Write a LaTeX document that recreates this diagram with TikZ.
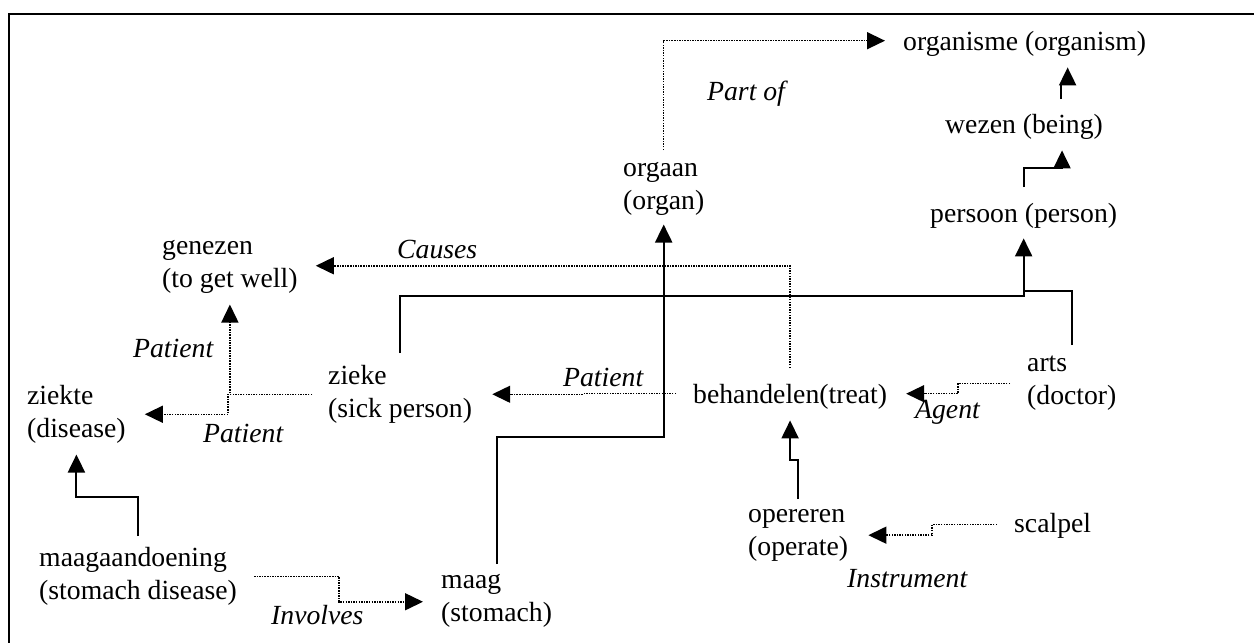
\documentclass[tikz,border=0pt]{standalone}
\usepackage{fontspec}
\setmainfont{Liberation Serif}
\usetikzlibrary{arrows.meta}

\begin{document}
\begin{tikzpicture}[x=1pt, y=-1pt, >={Triangle[length=18pt,width=17pt]},
  concept/.style={anchor=north west, inner sep=0pt, align=left,
    font=\fontsize{27.7}{33}\selectfont,
    execute at begin node=\strut, execute at end node=\strut},
  rel/.style={concept, font=\fontsize{27.7}{33}\selectfont\itshape},
  isa/.style={->, line width=2pt},
  role/.style={->, line width=1.5pt, dash pattern=on 1.5pt off 1.1pt}]
  \useasboundingbox (0,0) rectangle (1254,643);
  \draw[line width=2.5pt] (9,643) -- (9,14) -- (1254,14);

  % concepts
  \node[concept] (organisme) at (903,27) {organisme (organism)};
  \node[concept] (wezen) at (945,110) {wezen (being)};
  \node[concept] (persoon) at (930,199) {persoon (person)};
  \node[concept] (orgaan) at (623,162) {orgaan\\(organ)};
  \node[concept] (genezen) at (162,240) {genezen\\(to get well)};
  \node[concept] (ziekte) at (27,385) {ziekte\\(disease)};
  \node[concept] (zieke) at (328,365) {zieke\\(sick person)};
  \node[concept] (behandelen) at (693,380) {behandelen(treat)};
  \node[concept] (arts) at (1027,356) {arts\\(doctor)};
  \node[concept] (opereren) at (748,509) {opereren\\(operate)};
  \node[concept] (scalpel) at (1014,509) {scalpel};
  \node[concept] (maagaand) at (39,547) {maagaandoening\\(stomach disease)};
  \node[concept] (maag) at (441,574) {maag\\(stomach)};

  % relation labels
  \node[rel] (partof) at (707,77) {Part of};
  \node[rel] (causes) at (397,235) {Causes};
  \node[rel] (patienta) at (133,334) {Patient};
  \node[rel] (patientb) at (203,419) {Patient};
  \node[rel] (patientc) at (563,363) {Patient};
  \node[rel] (agent) at (915,395) {Agent};
  \node[rel] (instrument) at (847,564) {Instrument};
  \node[rel] (involves) at (271,601) {Involves};

  % is-a links
  \draw[isa] ([xshift=37pt,yshift=11pt]wezen.north) -- ++(0,-15)
    -| ([xshift=43pt,yshift=-7pt]organisme.south);
  \draw[isa] ([yshift=12pt]persoon.north) -- ++(0,-19)
    -| ([xshift=38pt,yshift=-7pt]wezen.south);
  \draw[isa] ([yshift=12pt]zieke.north) -- ++(0,-57)
    -| ([yshift=-6pt]persoon.south);
  \draw[line width=2pt] ([yshift=11pt]arts.north) |- ([yshift=-59pt]persoon.south);
  \draw[isa] ([yshift=10pt]maag.north) -- ++(0,-127)
    -| ([yshift=-5pt]orgaan.south);
  \draw[isa] ([yshift=11pt]maagaand.north) -- ++(0,-39)
    -| ([yshift=-7pt]ziekte.south);
  \draw[isa] ([yshift=10pt]opereren.north) -- ++(0,-39)
    -| ([yshift=-7pt]behandelen.south);

  % role links
  \draw[role] ([yshift=12pt]orgaan.north) |- ([xshift=-18pt,yshift=3pt]organisme.west);
  \draw[role] ([yshift=12pt]behandelen.north) |- ([xshift=18pt,yshift=3pt]genezen.east);
  \draw[role] ([xshift=-17pt,yshift=3pt]behandelen.west) -- ++(-93,0)
    |- ([xshift=20pt,yshift=2pt]zieke.east);
  \draw[role] ([xshift=-16pt,yshift=2pt]zieke.west) -| ([yshift=-7pt]genezen.south);
  \draw[role] ([xshift=-16pt,yshift=2pt]zieke.west) -- ++(-84,0)
    |- ([xshift=19pt,yshift=2pt]ziekte.east);
  \draw[role] ([xshift=-17pt,yshift=2pt]arts.west) -- ++(-52,0)
    |- ([xshift=19pt,yshift=3pt]behandelen.east);
  \draw[role] ([xshift=-17pt,yshift=1pt]scalpel.west) -- ++(-65,0)
    |- ([xshift=20pt,yshift=2pt]opereren.east);
  \draw[role] ([xshift=17pt,yshift=2pt]maagaand.east) -- ++(85,0)
    |- ([xshift=-18pt,yshift=1pt]maag.west);
\end{tikzpicture}
\end{document}
